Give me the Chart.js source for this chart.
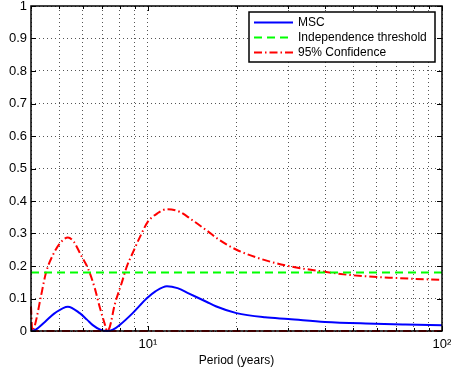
<!DOCTYPE html>
<html>
<head>
<meta charset="utf-8">
<script src="https://cdn.jsdelivr.net/npm/chart.js@4"></script>
<style>
  html, body { margin: 0; padding: 0; background: #fff; }
  #wrap { width: 451px; height: 374px; }
</style>
</head>
<body>
<div id="wrap"><canvas id="mscChart"></canvas></div>
<script>
// Magnitude squared coherence vs period (log x axis)
const mscPeriods = [4.0, 4.15, 4.46, 4.82, 5.34, 5.86, 6.2, 6.49, 6.85, 7.25, 7.6, 8.0, 8.87, 9.89, 10.6, 11.6, 12.6, 13.8, 15.8, 17, 20, 25, 30, 40, 55, 75, 100];
const mscValues = [0, 0.004, 0.028, 0.055, 0.075, 0.055, 0.035, 0.018, 0.005, 0, 0.004, 0.018, 0.055, 0.1, 0.122, 0.138, 0.132, 0.115, 0.09, 0.076, 0.055, 0.042, 0.037, 0.028, 0.023, 0.02, 0.018];

const confPeriods = [4.0, 4.04, 4.13, 4.32, 4.5, 4.75, 5.02, 5.34, 5.6, 5.91, 6.24, 6.59, 6.85, 7.18, 7.25, 7.41, 7.7, 8.14, 8.46, 8.87, 9.51, 9.97, 10.8, 11.6, 12.8, 14.05, 15.8, 17.5, 20, 25, 30, 38, 49, 70, 100];
const confValues = [0.075, 0, 0.02, 0.105, 0.18, 0.234, 0.27, 0.288, 0.274, 0.234, 0.194, 0.132, 0.074, 0.012, 0, 0.012, 0.08, 0.148, 0.197, 0.24, 0.30, 0.335, 0.363, 0.375, 0.367, 0.343, 0.31, 0.28, 0.25, 0.218, 0.20, 0.185, 0.172, 0.163, 0.157];

const lowerPeriods = [4, 100];
const lowerValues = [0, 0];

const thresholdPeriods = [4, 100];
const thresholdValues = [0.18, 0.18];

const periodTicks = [4, 5, 6, 7, 8, 9, 10, 20, 30, 40, 50, 60, 70, 80, 90, 100];
const yTicks = [0, 0.1, 0.2, 0.3, 0.4, 0.5, 0.6, 0.7, 0.8, 0.9, 1];

const FONT = "'Liberation Sans', Arial, Helvetica, sans-serif";

function pts(xs, ys) {
  return xs.map((x, i) => ({ x: x, y: ys[i] }));
}

// frame + inside tick marks (matlab style) and boxed legend
const matlabFrame = {
  id: 'matlabFrame',
  afterDraw(chart) {
    const ctx = chart.ctx;
    const a = chart.chartArea;
    const xs = chart.scales.x, ys = chart.scales.y;
    ctx.save();
    ctx.strokeStyle = '#000';
    ctx.lineWidth = 1;
    ctx.setLineDash([]);
    ctx.beginPath();
    periodTicks.forEach(v => {
      const px = Math.round(xs.getPixelForValue(v)) + 0.5;
      const len = (v === 10 || v === 100) ? 5 : 3;
      ctx.moveTo(px, a.bottom); ctx.lineTo(px, a.bottom - len);
      ctx.moveTo(px, a.top); ctx.lineTo(px, a.top + len);
    });
    yTicks.forEach(v => {
      const py = Math.round(ys.getPixelForValue(v)) + 0.5;
      ctx.moveTo(a.left, py); ctx.lineTo(a.left + 5, py);
      ctx.moveTo(a.right, py); ctx.lineTo(a.right - 5, py);
    });
    ctx.stroke();
    ctx.lineWidth = 1.5;
    ctx.strokeRect(a.left, a.top, a.right - a.left, a.bottom - a.top);

    // legend
    const entries = chart.data.datasets.filter(d => d.label);
    const bw = 186, bh = 50;
    const bx = a.right - 7 - bw, by = a.top + 6;
    ctx.fillStyle = '#fff';
    ctx.fillRect(bx, by, bw, bh);
    ctx.lineWidth = 1.5;
    ctx.strokeRect(bx, by, bw, bh);
    ctx.font = '12px ' + FONT;
    ctx.textBaseline = 'middle';
    ctx.textAlign = 'left';
    entries.forEach((d, i) => {
      const y = by + 10.5 + i * 15;
      ctx.beginPath();
      ctx.strokeStyle = d.borderColor;
      ctx.lineWidth = d.borderWidth;
      ctx.setLineDash(d.borderDash || []);
      ctx.moveTo(bx + 5, y); ctx.lineTo(bx + 44, y);
      ctx.stroke();
      ctx.setLineDash([]);
      ctx.fillStyle = '#000';
      ctx.fillText(d.label, bx + 49, y + 0.5);
    });
    ctx.restore();
  }
};

new Chart(document.getElementById('mscChart'), {
  type: 'scatter',
  data: {
    datasets: [
      {
        label: 'MSC',
        data: pts(mscPeriods, mscValues),
        borderColor: '#0000ff',
        borderWidth: 2,
        showLine: true,
        pointRadius: 0,
        cubicInterpolationMode: 'monotone',
        clip: 3
      },
      {
        label: 'Independence threshold',
        data: pts(thresholdPeriods, thresholdValues),
        borderColor: '#00ff00',
        borderWidth: 2,
        borderDash: [8, 5],
        showLine: true,
        pointRadius: 0
      },
      {
        label: '95% Confidence',
        data: pts(confPeriods, confValues),
        borderColor: '#ff0000',
        borderWidth: 2,
        borderDash: [8, 3, 1.5, 3],
        showLine: true,
        pointRadius: 0,
        cubicInterpolationMode: 'monotone',
        clip: 3
      },
      {
        label: '',
        data: pts(lowerPeriods, lowerValues),
        borderColor: '#ff0000',
        borderWidth: 2,
        borderDash: [8, 3, 1.5, 3],
        showLine: true,
        pointRadius: 0,
        clip: 3
      }
    ]
  },
  options: {
    responsive: true,
    maintainAspectRatio: false,
    animation: false,
    layout: { padding: { top: 6, right: 9, left: 0, bottom: 0 } },
    plugins: {
      legend: { display: false },
      tooltip: { enabled: false }
    },
    scales: {
      x: {
        type: 'logarithmic',
        min: 4,
        max: 100,
        afterBuildTicks: (scale) => { scale.ticks = periodTicks.map(v => ({ value: v })); },
        afterFit: (scale) => {
          scale.height = 43;
          scale.paddingLeft = 0;
          scale.paddingRight = 0;
        },
        grid: { color: '#555', lineWidth: 1, drawTicks: false },
        border: { display: false, dash: [1, 3] },
        ticks: {
          autoSkip: false,
          maxRotation: 0,
          padding: 6,
          color: '#000',
          font: { family: FONT, size: 13 },
          callback: (v) => v === 10 ? '10\u00b9' : (v === 100 ? '10\u00b2' : '')
        },
        title: {
          display: true,
          text: 'Period (years)',
          color: '#000',
          font: { family: FONT, size: 12 },
          padding: { top: 0, bottom: 6 }
        }
      },
      y: {
        min: 0,
        max: 1,
        afterBuildTicks: (scale) => { scale.ticks = yTicks.map(v => ({ value: v })); },
        afterFit: (scale) => {
          scale.width = 31;
          scale.paddingTop = 0;
          scale.paddingBottom = 0;
        },
        grid: { color: '#555', lineWidth: 1, drawTicks: false },
        border: { display: false, dash: [1, 3] },
        ticks: {
          padding: 4,
          color: '#000',
          font: { family: FONT, size: 13 },
          callback: (v) => String(v)
        }
      }
    }
  },
  plugins: [matlabFrame]
});
</script>
</body>
</html>
